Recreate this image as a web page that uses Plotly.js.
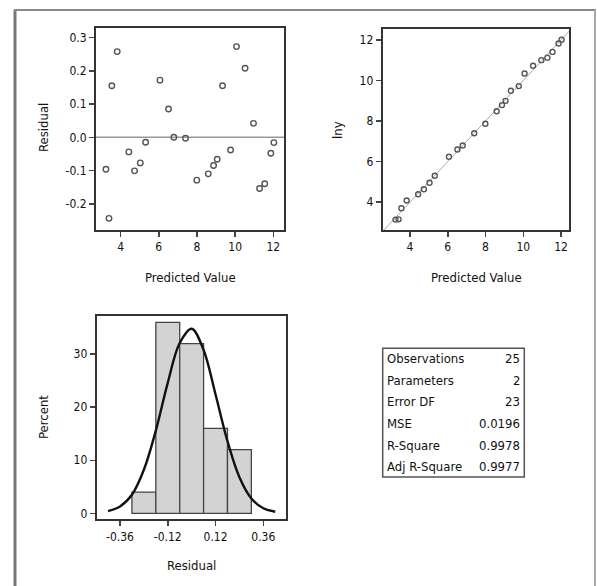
<!DOCTYPE html>
<html>
<head>
<meta charset="utf-8">
<script src="https://cdn.plot.ly/plotly-3.0.1.min.js"></script>
<style>
html,body{margin:0;padding:0;background:#fff;}
#chart{width:597px;height:586px;}
</style>
</head>
<body>
<div id="chart"></div>
<script>
// ---- data ----
var predicted = [3.23, 3.39, 3.54, 3.82, 4.43, 4.73, 5.03, 5.31, 6.06, 6.51, 6.79, 7.40, 7.99,
                 8.59, 8.87, 9.06, 9.34, 9.76, 10.07, 10.52, 10.96, 11.28, 11.55, 11.87, 12.03];
var residual  = [-0.096, -0.244, 0.155, 0.258, -0.044, -0.101, -0.077, -0.015, 0.172, 0.085, 0.0, -0.003, -0.129,
                 -0.110, -0.085, -0.066, 0.155, -0.038, 0.273, 0.208, 0.042, -0.154, -0.140, -0.048, -0.016];
var lny       = [3.134, 3.146, 3.695, 4.078, 4.386, 4.629, 4.953, 5.295, 6.232, 6.595, 6.790, 7.397, 7.861,
                 8.480, 8.785, 8.994, 9.495, 9.722, 10.343, 10.728, 11.002, 11.126, 11.410, 11.822, 12.014];
var binCenters = [-0.24, -0.12, 0.0, 0.12, 0.24];
var binPercent = [4, 36, 32, 16, 12];
var curveX = [-0.42, -0.36, -0.30, -0.24, -0.18, -0.12, -0.06, 0.0, 0.06, 0.12, 0.18, 0.24, 0.30, 0.36, 0.42];
var curveY = [0.4, 1.3, 3.5, 8.2, 15.6, 24.6, 32.1, 34.8, 30.8, 22.4, 13.6, 6.8, 2.8, 0.95, 0.3];
var diagX = [2.4, 12.6];
var diagY = [2.4, 12.6];
var zeroX = [2.5, 12.8];
var zeroY = [0, 0];
var statLabels = ["Observations", "Parameters", "Error DF", "MSE", "R-Square", "Adj R-Square"];
var statValues = ["25", "2", "23", "0.0196", "0.9978", "0.9977"];
var resTicks = [-0.2, -0.1, 0.0, 0.1, 0.2, 0.3];
var resTickText = ["-0.2", "-0.1", "0.0", "0.1", "0.2", "0.3"];
var predTicks = [4, 6, 8, 10, 12];
var lnyTicks = [4, 6, 8, 10, 12];
var histXTicks = [-0.36, -0.12, 0.12, 0.36];
var histXTickText = ["-0.36", "-0.12", "0.12", "0.36"];
var pctTicks = [0, 10, 20, 30];

// ---- geometry helpers (pixels -> paper) ----
var W = 597, H = 586;
function px(x){ return x / W; }
function py(y){ return 1 - y / H; }

var FONT = "DejaVu Sans Condensed, DejaVu Sans, Arial, sans-serif";
var tickFont = {family: FONT, size: 12, color: "#111"};
var markerStyle = {symbol: "circle-open", size: 5.5, color: "#555", line: {width: 1.4, color: "#555"}};

var traces = [
  {x: zeroX, y: zeroY, xaxis: "x", yaxis: "y", mode: "lines", line: {color: "#999", width: 1.5}, hoverinfo: "skip"},
  {x: predicted, y: residual, xaxis: "x", yaxis: "y", mode: "markers", marker: markerStyle},
  {x: diagX, y: diagY, xaxis: "x2", yaxis: "y2", mode: "lines", line: {color: "#aaa", width: 1}, hoverinfo: "skip"},
  {x: predicted, y: lny, xaxis: "x2", yaxis: "y2", mode: "markers",
   marker: {symbol: "circle-open", size: 5, color: "#555", line: {width: 1.4, color: "#555"}}},
  {x: binCenters, y: binPercent, xaxis: "x3", yaxis: "y3", type: "bar", width: 0.12,
   marker: {color: "#d3d3d3", line: {color: "#444", width: 1.3}}},
  {x: curveX, y: curveY, xaxis: "x3", yaxis: "y3", mode: "lines",
   line: {color: "#111", width: 2.4, shape: "spline", smoothing: 1.0}}
];

function axisBase(extra){
  var a = {showline: true, mirror: true, linecolor: "#333", linewidth: 2,
           ticks: "outside", ticklen: 5, tickwidth: 1.5, tickcolor: "#444",
           showgrid: false, zeroline: false, tickfont: tickFont, fixedrange: true};
  for (var k in extra) a[k] = extra[k];
  return a;
}

var layout = {
  width: W, height: H,
  margin: {l: 0, r: 0, t: 0, b: 0},
  paper_bgcolor: "#fff", plot_bgcolor: "#fff",
  showlegend: false,
  xaxis: axisBase({domain: [px(96), px(284)], range: [2.71, 12.56], tickvals: predTicks, anchor: "y"}),
  yaxis: axisBase({domain: [py(230), py(28)], range: [-0.279, 0.329], tickvals: resTicks, ticktext: resTickText, anchor: "x"}),
  xaxis2: axisBase({domain: [px(382.7), px(569.3)], range: [2.55, 12.44], tickvals: predTicks, anchor: "y2"}),
  yaxis2: axisBase({domain: [py(230), py(29)], range: [2.62, 12.54], tickvals: lnyTicks, anchor: "x2"}),
  xaxis3: axisBase({domain: [px(96.7), px(286)], range: [-0.477, 0.474], tickvals: histXTicks, ticktext: histXTickText, anchor: "y3"}),
  yaxis3: axisBase({domain: [py(519.3), py(316)], range: [-1.13, 37.2], tickvals: pctTicks, anchor: "x3"}),
  bargap: 0,
  shapes: [
    // outer frame
    {type: "line", xref: "paper", yref: "paper", x0: px(15), x1: px(15), y0: -0.05, y1: py(10), line: {color: "#777", width: 3}},
    {type: "line", xref: "paper", yref: "paper", x0: px(14), x1: px(596), y0: py(10), y1: py(10), line: {color: "#888", width: 2}},
    {type: "line", xref: "paper", yref: "paper", x0: px(595), x1: px(595), y0: -0.05, y1: py(10), line: {color: "#aaa", width: 2}},
    // stats box
    {type: "rect", xref: "paper", yref: "paper", x0: px(382.7), x1: px(524.3), y0: py(477), y1: py(348.3),
     line: {color: "#555", width: 1.5}, fillcolor: "rgba(0,0,0,0)"}
  ],
  annotations: []
};

// axis titles
function title(text, x, y, angle){
  layout.annotations.push({text: text, xref: "paper", yref: "paper", x: px(x), y: py(y),
    xanchor: "center", yanchor: "middle", showarrow: false, textangle: angle || 0,
    font: {family: FONT, size: 13, color: "#111"}});
}
title("Predicted Value", 190, 277);
title("Residual", 43, 128, -90);
title("Predicted Value", 476.7, 277);
title("lny", 338, 130, -90);
title("Residual", 191, 565);
title("Percent", 43, 417, -90);

// stats table
var rowY0 = 358.3, rowStep = 21.7;
for (var i = 0; i < statLabels.length; i++){
  var yy = rowY0 + i * rowStep;
  layout.annotations.push({text: statLabels[i], xref: "paper", yref: "paper", x: px(385), y: py(yy),
    xanchor: "left", yanchor: "middle", showarrow: false,
    font: {family: FONT, size: 13, color: "#111"}});
  layout.annotations.push({text: statValues[i], xref: "paper", yref: "paper", x: px(522), y: py(yy),
    xanchor: "right", yanchor: "middle", showarrow: false,
    font: {family: FONT, size: 13, color: "#111"}});
}

Plotly.newPlot("chart", traces, layout, {displayModeBar: false, staticPlot: true});
</script>
</body>
</html>
